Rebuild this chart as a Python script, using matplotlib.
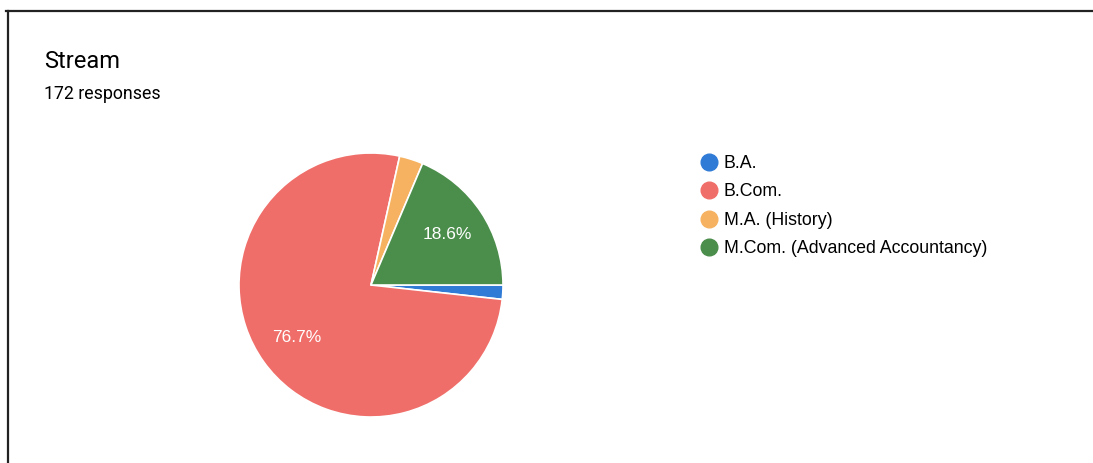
import matplotlib; matplotlib.use('Agg')
import matplotlib.pyplot as plt
from matplotlib.lines import Line2D

labels = ['B.A.', 'B.Com.', 'M.A. (History)', 'M.Com. (Advanced Accountancy)']
counts = [3, 132, 5, 32]
colors = ['#2f7bd6', '#f06e69', '#f6b260', '#4b8d4b']
title = 'Stream'
subtitle = '172 responses'

W, H = 1093, 463
fig = plt.figure(figsize=(W / 100, H / 100), dpi=100)
fig.patch.set_facecolor('white')

# pie axes placed in pixels: centre (371, 285), radius 132
cx, cy, r = 371, 285, 132
ax = fig.add_axes([(cx - r) / W, (H - cy - r) / H, 2 * r / W, 2 * r / H])

def pct(p):
    return f'{p:.1f}%' if p > 10 else ''

wedges, texts, autotexts = ax.pie(
    counts, colors=colors, startangle=0, counterclock=False, radius=1,
    autopct=pct, pctdistance=0.69,
    wedgeprops=dict(edgecolor='white', linewidth=1.2),
    textprops=dict(color='white', fontsize=12.5, family='Liberation Sans'))
ax.set_xlim(-1, 1)
ax.set_ylim(-1, 1)
ax.set_aspect('equal')
ax.axis('off')

# legend
handles = [Line2D([], [], marker='o', linestyle='none', markersize=12,
                  markerfacecolor=c, markeredgecolor=c) for c in colors]
fig.legend(handles, labels, loc='upper left', bbox_to_anchor=(690 / W, 1 - 146 / H),
           frameon=False, prop=dict(family='Liberation Sans', size=12.8),
           labelspacing=0.645, handletextpad=0.3, handlelength=1.1, borderpad=0)

fig.text(44 / W, 1 - 61 / H, title, fontsize=17, family='Roboto', va='center', ha='left')
fig.text(44 / W, 1 - 94 / H, subtitle, fontsize=12.8, family='Roboto', va='center', ha='left')

# card border (top and left edges)
fig.add_artist(Line2D([6 / W, 1], [1 - 11 / H, 1 - 11 / H], color='#222222', lw=1.6))
fig.add_artist(Line2D([8 / W, 8 / W], [0, 1 - 11 / H], color='#222222', lw=1.6))

fig.savefig('out.png', dpi=100)
